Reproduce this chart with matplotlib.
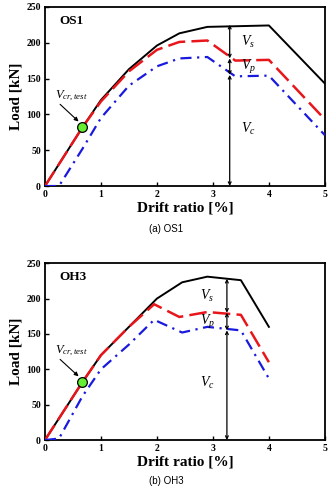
import matplotlib.pyplot as plt

# OS1 curves (drift %, load kN)
os1_x_total = [0, 0.67, 1.0, 1.5, 2.0, 2.4, 2.9, 4.0, 5.0]
os1_total = [0, 82, 120, 163, 196, 213, 222, 224, 143]
os1_x_red = [0, 0.67, 1.0, 1.5, 2.0, 2.4, 2.9, 3.4, 4.0, 5.0]
os1_red = [0, 82, 118, 160, 190, 201, 203, 175, 176, 93]
os1_x_blue = [0, 0.25, 0.67, 1.0, 1.5, 2.0, 2.4, 2.9, 3.4, 4.0, 5.0]
os1_blue = [0, 0, 52, 95, 140, 167, 178, 180, 153, 154, 71]

# OH3 curves
oh3_x_total = [0, 0.67, 1.0, 1.5, 2.0, 2.45, 2.9, 3.5, 4.0]
oh3_total = [0, 82, 120, 160, 200, 223, 231, 226, 160]
oh3_x_red = [0, 0.67, 1.0, 1.5, 1.95, 2.4, 2.9, 3.5, 4.0]
oh3_red = [0, 82, 120, 160, 192, 174, 181, 177, 110]
oh3_x_blue = [0, 0.25, 0.67, 1.0, 1.5, 1.95, 2.45, 2.9, 3.5, 4.0]
oh3_blue = [0, 2, 62, 100, 135, 170, 152, 160, 155, 87]

crack = (0.67, 82)
os1_arrow = (3.3, 155, 178, 225)
oh3_arrow = (3.25, 155, 180, 228)

plt.rcParams['font.family'] = 'Liberation Serif'
plt.rcParams['mathtext.fontset'] = 'custom'
plt.rcParams['mathtext.it'] = 'Liberation Serif:italic'
plt.rcParams['mathtext.rm'] = 'Liberation Serif'

fig = plt.figure(figsize=(3.32, 4.87), dpi=100)
ax1 = fig.add_axes([0.1355, 0.618, 0.843, 0.368])
ax2 = fig.add_axes([0.1355, 0.0965, 0.843, 0.363])


def draw(ax, xt, yt, xr, yr, xb, yb, name, arr, lab):
    ax.plot(xt, yt, color='black', lw=1.4, zorder=2)
    ax.plot(xr, yr, color='#e8161b', lw=1.8, dashes=(7, 2.5), zorder=3)
    ax.plot(xb, yb, color='#1a1adf', lw=1.6, dashes=(5, 2.5, 1, 2.5), zorder=3)
    ax.plot(*crack, 'o', ms=7, mfc='#66ee33', mec='black', mew=0.9, zorder=5)
    x0, yc, yp, ys = arr
    for a, b in [(0, yc), (yc, yp), (yp, ys)]:
        ax.annotate('', xy=(x0, b), xytext=(x0, a),
                    arrowprops=dict(arrowstyle='<->', lw=0.9, color='black',
                                    mutation_scale=5, shrinkA=0, shrinkB=0))
    ax.text(lab, (yp + ys) / 2, r'$V_s$', fontsize=10, ha='center', va='center')
    ax.text(lab, (yc + yp) / 2, r'$V_p$', fontsize=10, ha='center', va='center')
    ax.text(lab, 80, r'$V_c$', fontsize=10, ha='center', va='center')
    ax.text(0.47, 126, r'$V_{cr,test}$', fontsize=9, ha='center', va='center')
    ax.annotate('', xy=(0.6, 90), xytext=(0.27, 114),
                arrowprops=dict(arrowstyle='-|>', lw=0.8, color='black',
                                mutation_scale=6, shrinkA=0, shrinkB=0))
    ax.text(0.25, 230, name, fontsize=9.5, fontweight='bold', va='center')
    ax.set_xlim(0, 5)
    ax.set_ylim(0, 250)
    ax.set_xticks([0, 1, 2, 3, 4, 5])
    ax.set_yticks([0, 50, 100, 150, 200, 250])
    ax.tick_params(direction='in', length=3, width=1, labelsize=7, pad=3)
    for t in ax.get_xticklabels() + ax.get_yticklabels():
        t.set_fontweight('bold')
    for s in ax.spines.values():
        s.set_linewidth(1.3)
    ax.set_xlabel('Drift ratio [%]', fontsize=11, fontweight='bold', labelpad=2)
    ax.set_ylabel('Load [kN]', fontsize=11, fontweight='bold', labelpad=3)


draw(ax1, os1_x_total, os1_total, os1_x_red, os1_red, os1_x_blue, os1_blue,
     'OS1', os1_arrow, 3.63)
draw(ax2, oh3_x_total, oh3_total, oh3_x_red, oh3_red, oh3_x_blue, oh3_blue,
     'OH3', oh3_arrow, 2.9)

fig.text(0.5, 1 - 229 / 487, '(a) OS1', fontsize=7, ha='center', va='center',
         family='Liberation Sans')
fig.text(0.5, 1 - 481 / 487, '(b) OH3', fontsize=7, ha='center', va='center',
         family='Liberation Sans')

fig.savefig('out.png', dpi=100)
